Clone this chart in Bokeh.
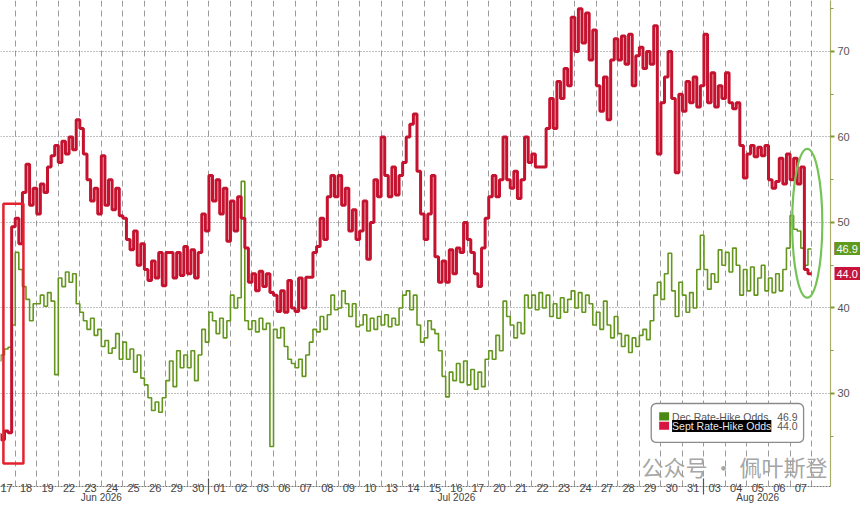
from bokeh.plotting import figure
from bokeh.models import Range1d, FixedTicker, Label, BoxAnnotation, LinearAxis
from bokeh.embed import file_html
from bokeh.resources import INLINE

# ---- data -------------------------------------------------------------
days = ["17", "18", "19", "22", "23", "24", "25", "26", "29", "30",
        "01", "02", "03", "06", "07", "08", "09", "10", "13", "14", "15", "16",
        "17", "20", "21", "22", "23", "24", "27", "28", "29", "30", "31",
        "03", "04", "05", "06", "07"]
months = ["Jun 2026"] * 10 + ["Jul 2026"] * 23 + ["Aug 2026"] * 5
y_ticks = [30, 40, 50, 60, 70]

# intraday readings (6 per trading day)
sept_odds = [
    [25.2, 25.2, 24.6, 25.6, 25.4, 49.5],
    [50.5, 47.5, 53.5, 56.8, 52.0, 54.0],
    [51.0, 54.5, 53.5, 56.5, 57.8, 59.0],
    [57.0, 59.5, 58.0, 60.0, 58.5, 62.0],
    [61.0, 58.0, 55.0, 52.5, 54.0, 51.0],
    [57.8, 52.0, 55.0, 51.5, 54.0, 50.8],
    [50.5, 48.0, 46.8, 49.0, 45.0, 47.5],
    [44.5, 43.2, 45.5, 43.5, 46.5, 42.6],
    [46.5, 46.5, 43.5, 46.5, 43.8, 47.2],
    [44.0, 46.8, 43.5, 46.5, 51.0, 49.0],
    [55.5, 52.5, 55.0, 51.0, 54.0, 47.8],
    [52.5, 49.0, 53.0, 50.5, 47.0, 43.0],
    [44.0, 42.0, 44.3, 42.5, 44.0, 41.8],
    [41.5, 39.6, 42.0, 39.5, 43.2, 40.0],
    [39.6, 43.5, 40.0, 43.6, 43.6, 46.5],
    [47.2, 50.5, 48.0, 53.0, 55.5, 53.0],
    [55.5, 52.0, 54.0, 49.0, 51.5, 48.0],
    [49.0, 52.5, 45.7, 50.0, 55.0, 53.0],
    [60.0, 55.5, 53.0, 56.5, 53.2, 55.5],
    [57.0, 60.0, 61.5, 62.7, 56.0, 51.0],
    [48.0, 51.0, 55.5, 46.0, 43.0, 45.5],
    [43.0, 46.8, 44.0, 47.0, 46.5, 50.0],
    [48.0, 46.5, 44.0, 42.5, 47.0, 50.5],
    [53.0, 55.5, 53.0, 55.0, 60.0, 55.0],
    [54.0, 56.0, 52.8, 55.0, 60.0, 57.0],
    [58.0, 56.5, 56.5, 56.5, 61.0, 64.5],
    [61.0, 66.5, 64.5, 68.0, 66.0, 74.0],
    [70.0, 75.0, 71.0, 74.5, 69.0, 72.5],
    [66.0, 63.0, 67.0, 62.0, 69.0, 71.5],
    [69.0, 71.8, 68.5, 72.0, 66.0, 69.5],
    [70.5, 68.0, 70.0, 68.5, 73.0, 58.0],
    [64.0, 67.0, 70.0, 64.5, 55.8, 65.0],
    [63.0, 66.5, 64.0, 67.0, 63.5, 66.0],
    [72.0, 64.0, 67.5, 63.5, 66.0, 64.5],
    [67.5, 64.0, 63.3, 64.0, 59.0, 55.2],
    [58.0, 59.0, 57.7, 58.8, 57.8, 59.0],
    [55.0, 54.0, 54.8, 57.5, 54.5, 58.0],
    [55.0, 57.5, 54.5, 56.5, 44.5, 44.0],
]
dec_odds = [
    [33.5, 33.8, 34.5, 35.2, 35.4, 38.0],
    [46.5, 44.5, 42.5, 41.0, 38.5, 40.5],
    [40.5, 41.5, 40.2, 41.8, 40.8, 32.2],
    [43.5, 42.5, 44.2, 43.0, 44.0, 40.5],
    [39.5, 38.5, 37.5, 38.8, 36.8, 37.5],
    [35.5, 36.2, 34.7, 35.3, 37.0, 34.0],
    [36.0, 34.0, 35.2, 32.5, 34.5, 31.8],
    [31.0, 29.5, 28.0, 29.0, 27.8, 29.5],
    [31.5, 33.8, 30.8, 35.0, 33.0, 34.5],
    [33.0, 35.0, 31.5, 34.5, 37.5, 36.0],
    [39.5, 38.5, 37.0, 38.8, 36.5, 38.5],
    [41.5, 40.0, 41.2, 54.8, 38.5, 37.5],
    [38.5, 37.2, 38.8, 37.5, 38.2, 23.8],
    [37.5, 36.5, 37.7, 35.5, 34.0, 33.5],
    [33.0, 34.0, 32.0, 34.5, 36.0, 37.5],
    [37.2, 39.0, 37.5, 39.2, 41.5, 39.8],
    [40.0, 42.0, 40.5, 39.0, 40.5, 37.8],
    [38.0, 39.2, 37.3, 38.8, 37.5, 39.0],
    [38.0, 39.2, 37.8, 38.8, 38.0, 40.0],
    [41.5, 42.0, 39.8, 41.5, 38.0, 36.0],
    [36.5, 38.5, 37.5, 37.0, 35.0, 32.0],
    [29.6, 32.5, 31.5, 33.5, 31.3, 33.8],
    [31.0, 32.8, 30.5, 32.5, 30.8, 34.0],
    [35.0, 34.0, 36.8, 35.0, 40.8, 39.0],
    [38.0, 36.5, 38.3, 37.0, 41.5, 40.0],
    [41.5, 39.8, 41.8, 40.0, 41.5, 39.0],
    [40.5, 38.8, 41.2, 39.5, 41.0, 42.0],
    [40.0, 41.8, 39.5, 41.5, 40.5, 38.0],
    [39.5, 37.5, 40.8, 38.0, 36.5, 39.0],
    [37.0, 35.5, 36.8, 34.8, 36.5, 35.5],
    [36.8, 37.5, 36.3, 38.5, 41.5, 43.0],
    [41.0, 44.0, 46.4, 42.0, 39.0, 43.0],
    [41.5, 39.5, 41.8, 40.0, 44.5, 48.5],
    [44.5, 42.2, 44.0, 43.0, 46.8, 45.0],
    [46.5, 44.2, 47.0, 45.0, 41.5, 44.5],
    [42.0, 44.8, 41.5, 43.5, 45.0, 42.0],
    [43.5, 41.8, 44.0, 42.0, 44.5, 47.0],
    [50.8, 49.2, 49.0, 47.0, 45.0, 46.9],
]
dec_name = "Dec Rate-Hike Odds"
sept_name = "Sept Rate-Hike Odds"

RED = "#c4122f"
GREEN = "#64961e"
FONT = "Liberation Sans"


def series_xy(rows):
    xs, ys = [], []
    for i, row in enumerate(rows):
        n = len(row)
        for k, v in enumerate(row):
            xs.append(i - 0.5 + k / n)
            ys.append(v)
    xs.append(xs[-1] + 1.0 / len(rows[-1]))
    ys.append(ys[-1])
    return xs, ys


n_days = len(days)
x_start, x_end = -0.185, n_days + 0.38
y_lo, y_hi = 19.12, 75.96
W, H = 860, 505
p = figure(width=W, height=H,
           x_range=Range1d(x_start, x_end),
           y_range=Range1d(y_lo, y_hi),
           y_axis_location="right",
           toolbar_location=None, output_backend="svg",
           min_border_left=0, min_border_top=0,
           min_border_right=27, min_border_bottom=0,
           outline_line_color=None, background_fill_color="white",
           border_fill_color="white")

# grids
p.xgrid.ticker = FixedTicker(ticks=[i + 0.5 for i in range(n_days)])
p.xgrid.grid_line_color = "#9a9a9a"
p.xgrid.grid_line_dash = "6 4"
p.ygrid.ticker = FixedTicker(ticks=y_ticks)
p.ygrid.grid_line_color = "#808080"
p.ygrid.grid_line_dash = "1 2"

# x axis: day labels
xa = p.xaxis[0]
xa.ticker = FixedTicker(ticks=list(range(n_days)))
xa.major_label_overrides = {i: d for i, d in enumerate(days)}
xa.major_tick_out = 0
xa.major_tick_in = 3
xa.minor_tick_out = 0
xa.minor_tick_in = 0
xa.major_tick_line_color = "#888888"
xa.axis_line_color = "#777777"
xa.axis_line_dash = "2 1"
xa.major_label_standoff = -3
xa.major_label_text_font = FONT
xa.major_label_text_font_size = "11px"
xa.major_label_text_color = "#444444"

# second x axis: month names, month separators drawn upward
month_names = ["Jun 2026", "Jul 2026", "Aug 2026"]
month_centers = []
for m in month_names:
    idx = [i for i, mm in enumerate(months) if mm == m]
    month_centers.append(sum(idx) / len(idx))
month_breaks = [i - 0.5 for i in range(1, n_days) if months[i] != months[i - 1]]
ma = LinearAxis(ticker=FixedTicker(ticks=month_centers, minor_ticks=month_breaks))
ma.major_label_overrides = {c: m for c, m in zip(month_centers, month_names)}
ma.axis_line_color = None
ma.major_tick_line_color = None
ma.major_tick_out = 0
ma.major_tick_in = 0
ma.minor_tick_out = 0
ma.minor_tick_in = 16
ma.minor_tick_line_color = "#555555"
ma.minor_tick_line_width = 1.2
ma.major_label_standoff = -3
ma.major_label_text_font = FONT
ma.major_label_text_font_size = "10px"
ma.major_label_text_color = "#444444"
p.add_layout(ma, "below")

# y axis (right)
ya = p.yaxis[0]
ya.ticker = FixedTicker(ticks=y_ticks, minor_ticks=[25, 35, 45, 55, 65, 75])
ya.axis_line_color = "#a9ae6a"
ya.axis_line_width = 1.2
ya.major_tick_line_color = "#7f9a2e"
ya.major_tick_line_width = 2
ya.major_tick_out = 4
ya.major_tick_in = 0
ya.minor_tick_line_color = "#8f9a50"
ya.minor_tick_out = 3
ya.minor_tick_in = 0
ya.major_label_standoff = 3
ya.major_label_text_font = FONT
ya.major_label_text_font_size = "11px"
ya.major_label_text_color = "#555555"

# last-value tags: a second right axis whose thick ticks form the coloured
# tags (red major ticks, green minor tick drawn over the Dec one) and whose
# white labels sit on them
dec_last = dec_odds[-1][-1]
sept_last = sept_odds[-1][-1]
ta = LinearAxis(ticker=FixedTicker(ticks=[sept_last, dec_last],
                                   minor_ticks=[dec_last]))
ta.major_label_overrides = {sept_last: f"{sept_last:.1f}",
                            dec_last: f"{dec_last:.1f}"}
ta.axis_line_color = None
ta.major_tick_line_color = "#c8143a"
ta.major_tick_line_width = 13
ta.major_tick_line_cap = "butt"
ta.major_tick_in = 18
ta.major_tick_out = 8
ta.minor_tick_line_color = "#5e9a1c"
ta.minor_tick_line_width = 13
ta.minor_tick_line_cap = "butt"
ta.minor_tick_in = 18
ta.minor_tick_out = 8
ta.major_label_standoff = -24
ta.major_label_text_font = FONT
ta.major_label_text_font_size = "11px"
ta.major_label_text_color = "white"
p.add_layout(ta, "right")

# series
dx, dy = series_xy(dec_odds)
sx, sy = series_xy(sept_odds)
p.step(dx, dy, mode="after", line_color=GREEN, line_width=1.6)
p.step(sx, sy, mode="after", line_color=RED, line_width=3)

# highlight annotations
p.add_layout(BoxAnnotation(left=-0.05, right=0.88, bottom=21.8, top=52.2,
                           fill_alpha=0, line_color="#e2232f", line_alpha=1,
                           line_width=2.5))
p.ellipse(x=[37.3], y=[49.9], width=[1.4], height=[17.4],
          fill_alpha=0, line_color="#74c455", line_width=2.2)

# watermark
p.add_layout(Label(x=29.6, y=21.5, text="公众号 · 佩叶斯登",
                   text_baseline="middle", text_font="Noto Sans CJK SC",
                   text_font_size="22px", text_color="#a6a6a6"))

# legend box
p.add_layout(BoxAnnotation(left=30.05, right=37.13, bottom=24.27, top=28.83,
                           fill_color="white", fill_alpha=1,
                           line_color="#8a8a8a", line_alpha=1, line_width=1.3,
                           border_radius=5))
p.add_layout(BoxAnnotation(left=30.42, right=30.88, bottom=26.85, top=27.8,
                           fill_color="#4b8a12", fill_alpha=1, line_alpha=0))
p.add_layout(BoxAnnotation(left=30.42, right=30.88, bottom=25.75, top=26.7,
                           fill_color="#d8153e", fill_alpha=1, line_alpha=0))
p.add_layout(Label(x=31.02, y=27.3, text=dec_name, text_baseline="middle",
                   text_font=FONT, text_font_size="10.5px",
                   text_color="#555555"))
p.add_layout(Label(x=31.02, y=26.2, text=sept_name, text_baseline="middle",
                   text_font=FONT, text_font_size="10.5px",
                   text_color="#e8e8e8", background_fill_color="black"))
p.add_layout(Label(x=36.85, y=27.3, text=f"{dec_last:.1f}",
                   text_align="right", text_baseline="middle",
                   text_font=FONT, text_font_size="10.5px",
                   text_color="#555555"))
p.add_layout(Label(x=36.85, y=26.2, text=f"{sept_last:.1f}",
                   text_align="right", text_baseline="middle",
                   text_font=FONT, text_font_size="10.5px",
                   text_color="#555555"))

open("out.html", "w").write(file_html(p, INLINE))
